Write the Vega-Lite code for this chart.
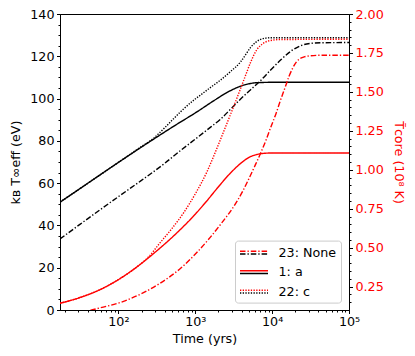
{
  "$schema": "https://vega.github.io/schema/vega-lite/v6.json",
  "width": 289,
  "height": 296,
  "autosize": {"type": "none"},
  "padding": {"left": 60, "top": 14, "right": 66, "bottom": 46},
  "config": {
    "font": "DejaVu Sans",
    "view": {"stroke": "black", "strokeWidth": 1},
    "axis": {"grid": false, "domainColor": "black", "tickColor": "black", "labelFont": "DejaVu Sans", "titleFont": "DejaVu Sans", "labelFontSize": 12.7, "titleFontSize": 12.7, "titleFontWeight": "normal", "labelColor": "black", "titleColor": "black"},
    "legend": {"labelFont": "DejaVu Sans"}
  },
  "datasets": {
    "eff": [
      {"series": "1: a", "t": 17.4, "v": 51},
      {"series": "1: a", "t": 31.6, "v": 57.4},
      {"series": "1: a", "t": 100, "v": 69.8},
      {"series": "1: a", "t": 316.2, "v": 81.8},
      {"series": "1: a", "t": 562.3, "v": 87.6},
      {"series": "1: a", "t": 1000, "v": 93.2},
      {"series": "1: a", "t": 1778.3, "v": 99.2},
      {"series": "1: a", "t": 2511.9, "v": 102.6},
      {"series": "1: a", "t": 3162.3, "v": 104.5},
      {"series": "1: a", "t": 3981.1, "v": 106},
      {"series": "1: a", "t": 5011.9, "v": 107},
      {"series": "1: a", "t": 6309.6, "v": 107.5},
      {"series": "1: a", "t": 10000, "v": 107.7},
      {"series": "1: a", "t": 100000, "v": 107.7},
      {"series": "23: None", "t": 17.4, "v": 33.6},
      {"series": "23: None", "t": 31.6, "v": 40.5},
      {"series": "23: None", "t": 100, "v": 53.6},
      {"series": "23: None", "t": 199.5, "v": 61.3},
      {"series": "23: None", "t": 398.1, "v": 69.3},
      {"series": "23: None", "t": 645.7, "v": 75.5},
      {"series": "23: None", "t": 1000, "v": 80.8},
      {"series": "23: None", "t": 1584.9, "v": 86.5},
      {"series": "23: None", "t": 2138, "v": 90.3},
      {"series": "23: None", "t": 2884, "v": 95},
      {"series": "23: None", "t": 3890.5, "v": 99.8},
      {"series": "23: None", "t": 5248.1, "v": 104.2},
      {"series": "23: None", "t": 7079.5, "v": 108.5},
      {"series": "23: None", "t": 9549.9, "v": 113.5},
      {"series": "23: None", "t": 12882, "v": 118.2},
      {"series": "23: None", "t": 17378, "v": 122.3},
      {"series": "23: None", "t": 23442, "v": 125},
      {"series": "23: None", "t": 31623, "v": 126.1},
      {"series": "23: None", "t": 42658, "v": 126.4},
      {"series": "23: None", "t": 100000, "v": 126.5},
      {"series": "22: c", "t": 17.4, "v": 51},
      {"series": "22: c", "t": 31.6, "v": 57.4},
      {"series": "22: c", "t": 100, "v": 69.8},
      {"series": "22: c", "t": 199.5, "v": 77.3},
      {"series": "22: c", "t": 281.8, "v": 81},
      {"series": "22: c", "t": 398.1, "v": 86.1},
      {"series": "22: c", "t": 501.2, "v": 89.8},
      {"series": "22: c", "t": 645.7, "v": 93.8},
      {"series": "22: c", "t": 1000, "v": 99.8},
      {"series": "22: c", "t": 1174.9, "v": 101.7},
      {"series": "22: c", "t": 1584.9, "v": 105.3},
      {"series": "22: c", "t": 2138, "v": 108.8},
      {"series": "22: c", "t": 2818.4, "v": 112.5},
      {"series": "22: c", "t": 3890.5, "v": 117.4},
      {"series": "22: c", "t": 4570.9, "v": 121},
      {"series": "22: c", "t": 5248.1, "v": 124.2},
      {"series": "22: c", "t": 6166, "v": 126.7},
      {"series": "22: c", "t": 7079.5, "v": 128},
      {"series": "22: c", "t": 8317.6, "v": 128.6},
      {"series": "22: c", "t": 10000, "v": 128.8},
      {"series": "22: c", "t": 100000, "v": 128.8}
    ],
    "core": [
      {"series": "1: a", "t": 17.4, "v": 0.143},
      {"series": "1: a", "t": 31.6, "v": 0.18},
      {"series": "1: a", "t": 56.2, "v": 0.228},
      {"series": "1: a", "t": 100, "v": 0.295},
      {"series": "1: a", "t": 177.8, "v": 0.38},
      {"series": "1: a", "t": 316.2, "v": 0.48},
      {"series": "1: a", "t": 562.3, "v": 0.59},
      {"series": "1: a", "t": 1000, "v": 0.715},
      {"series": "1: a", "t": 1412.5, "v": 0.8},
      {"series": "1: a", "t": 1995.3, "v": 0.89},
      {"series": "1: a", "t": 2818.4, "v": 0.975},
      {"series": "1: a", "t": 3981.1, "v": 1.045},
      {"series": "1: a", "t": 5011.9, "v": 1.08},
      {"series": "1: a", "t": 6309.6, "v": 1.098},
      {"series": "1: a", "t": 7943.3, "v": 1.106},
      {"series": "1: a", "t": 10000, "v": 1.108},
      {"series": "1: a", "t": 100000, "v": 1.108},
      {"series": "23: None", "t": 31.6, "v": 0.079},
      {"series": "23: None", "t": 45, "v": 0.1},
      {"series": "23: None", "t": 130, "v": 0.164},
      {"series": "23: None", "t": 346.7, "v": 0.271},
      {"series": "23: None", "t": 645.7, "v": 0.368},
      {"series": "23: None", "t": 1071.5, "v": 0.474},
      {"series": "23: None", "t": 2138, "v": 0.65},
      {"series": "23: None", "t": 3467.4, "v": 0.795},
      {"series": "23: None", "t": 4168.7, "v": 0.865},
      {"series": "23: None", "t": 5011.9, "v": 0.945},
      {"series": "23: None", "t": 6025.6, "v": 1.03},
      {"series": "23: None", "t": 7079.5, "v": 1.106},
      {"series": "23: None", "t": 8317.6, "v": 1.19},
      {"series": "23: None", "t": 9549.9, "v": 1.27},
      {"series": "23: None", "t": 11220, "v": 1.36},
      {"series": "23: None", "t": 12882, "v": 1.448},
      {"series": "23: None", "t": 14791, "v": 1.53},
      {"series": "23: None", "t": 16596, "v": 1.6},
      {"series": "23: None", "t": 18621, "v": 1.655},
      {"series": "23: None", "t": 20893, "v": 1.695},
      {"series": "23: None", "t": 25119, "v": 1.722},
      {"series": "23: None", "t": 31623, "v": 1.732},
      {"series": "23: None", "t": 42658, "v": 1.735},
      {"series": "23: None", "t": 100000, "v": 1.735},
      {"series": "22: c", "t": 17.4, "v": 0.143},
      {"series": "22: c", "t": 31.6, "v": 0.18},
      {"series": "22: c", "t": 56.2, "v": 0.228},
      {"series": "22: c", "t": 100, "v": 0.295},
      {"series": "22: c", "t": 177.8, "v": 0.38},
      {"series": "22: c", "t": 251.2, "v": 0.445},
      {"series": "22: c", "t": 346.7, "v": 0.53},
      {"series": "22: c", "t": 501.2, "v": 0.625},
      {"series": "22: c", "t": 707.9, "v": 0.725},
      {"series": "22: c", "t": 1000, "v": 0.845},
      {"series": "22: c", "t": 1412.5, "v": 0.985},
      {"series": "22: c", "t": 1995.3, "v": 1.16},
      {"series": "22: c", "t": 2818.4, "v": 1.345},
      {"series": "22: c", "t": 3548.1, "v": 1.47},
      {"series": "22: c", "t": 4466.8, "v": 1.6},
      {"series": "22: c", "t": 5248.1, "v": 1.69},
      {"series": "22: c", "t": 6309.6, "v": 1.77},
      {"series": "22: c", "t": 7585.8, "v": 1.81},
      {"series": "22: c", "t": 9120.1, "v": 1.828},
      {"series": "22: c", "t": 12589, "v": 1.836},
      {"series": "22: c", "t": 100000, "v": 1.838}
    ]
  },
  "layer": [
    {
      "data": {"name": "eff"},
      "mark": {"type": "line", "color": "black", "strokeWidth": 1.4, "interpolate": "monotone", "clip": true},
      "encoding": {
        "x": {
          "field": "t", "type": "quantitative",
          "scale": {"type": "log", "domain": [17.4, 100000], "nice": false},
          "axis": {
            "title": "Time (yrs)",
            "values": [20,30,40,50,60,70,80,90,100,200,300,400,500,600,700,800,900,1000,2000,3000,4000,5000,6000,7000,8000,9000,10000,20000,30000,40000,50000,60000,70000,80000,90000,100000],
            "labelExpr": "datum.value == 100 ? '10²' : datum.value == 1000 ? '10³' : datum.value == 10000 ? '10⁴' : datum.value == 100000 ? '10⁵' : ''",
            "tickSize": {"condition": {"test": "indexof([100,1000,10000,100000], datum.value) >= 0", "value": 3.5}, "value": 2},
            "labelOverlap": false, "labelFlush": false, "labelBound": false,
            "labelPadding": 2, "titlePadding": 4
          }
        },
        "y": {
          "field": "v", "type": "quantitative",
          "scale": {"domain": [0, 140], "nice": false},
          "axis": {
            "orient": "left",
            "title": "kʙ T∞eff (eV)",
            "values": [0,5,10,15,20,25,30,35,40,45,50,55,60,65,70,75,80,85,90,95,100,105,110,115,120,125,130,135,140],
            "labelExpr": "datum.value % 20 == 0 ? datum.label : ''",
            "tickSize": {"condition": {"test": "datum.value % 20 == 0", "value": 3.5}, "value": 2},
            "format": "d",
            "labelOverlap": false, "labelFlush": false,
            "labelPadding": 2.5, "titlePadding": 7
          }
        },
        "strokeDash": {
          "field": "series", "type": "nominal",
          "scale": {"domain": ["23: None", "1: a", "22: c"], "range": [[5.5, 2, 1.3, 2], [1, 0], [1.3, 1.4]]},
          "legend": {
            "orient": "none", "legendX": 175, "legendY": 226.6, "title": null,
            "symbolType": "M-1,0.2H3", "symbolSize": 196, "symbolStrokeColor": "black", "symbolStrokeWidth": 1.4,
            "labelFontSize": 12.7, "labelColor": "black", "labelOffset": 23.5,
            "labelExpr": "datum.label == '1: a' ? '\u2007\u20021: a' : datum.label",
            "fillColor": "rgba(255,255,255,0.8)", "strokeColor": "#cccccc", "cornerRadius": 3,
            "padding": 4, "rowPadding": 4.5, "zindex": 0
          }
        }
      }
    },
    {
      "data": {"name": "core"},
      "mark": {"type": "line", "color": "red", "strokeWidth": 1.4, "interpolate": "monotone", "clip": true},
      "encoding": {
        "x": {
          "field": "t", "type": "quantitative",
          "scale": {"type": "log", "domain": [17.4, 100000], "nice": false}
        },
        "y": {
          "field": "v", "type": "quantitative",
          "scale": {"domain": [0.1, 2.0], "nice": false, "zero": false},
          "axis": {
            "orient": "right",
            "title": "T̃core (10⁸ K)",
            "values": [0.15,0.2,0.25,0.3,0.35,0.4,0.45,0.5,0.55,0.6,0.65,0.7,0.75,0.8,0.85,0.9,0.95,1.0,1.05,1.1,1.15,1.2,1.25,1.3,1.35,1.4,1.45,1.5,1.55,1.6,1.65,1.7,1.75,1.8,1.85,1.9,1.95,2.0],
            "labelExpr": "abs(datum.value*4 - round(datum.value*4)) < 0.001 ? format(datum.value, '.2f') : ''",
            "tickSize": {"condition": {"test": "abs(datum.value*4 - round(datum.value*4)) < 0.001", "value": 3.5}, "value": 2},
            "labelColor": "red", "titleColor": "red",
            "labelOverlap": false, "labelFlush": false,
            "labelPadding": 2.5, "titlePadding": 8
          }
        },
        "strokeDash": {
          "field": "series", "type": "nominal",
          "scale": {"domain": ["23: None", "1: a", "22: c"], "range": [[5.5, 2, 1.3, 2], [1, 0], [1.3, 1.4]]},
          "legend": {
            "orient": "none", "legendX": 175, "legendY": 226.6, "title": null,
            "symbolType": "M-1,-0.2H3", "symbolSize": 196, "symbolStrokeColor": "red", "symbolStrokeWidth": 1.4,
            "labelFontSize": 12.7, "labelOpacity": 0, "labelOffset": 23.5,
            "labelExpr": "datum.label == '1: a' ? '\u2007\u20021: a' : datum.label",
            "padding": 4, "rowPadding": 4.5, "zindex": 1
          }
        }
      }
    }
  ],
  "resolve": {
    "scale": {"y": "independent", "strokeDash": "independent"},
    "axis": {"y": "independent"},
    "legend": {"strokeDash": "independent"}
  }
}
